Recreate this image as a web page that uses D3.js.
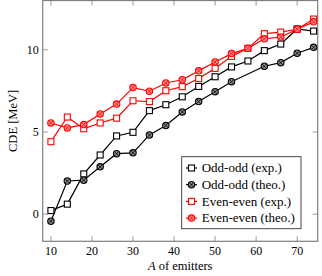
<!DOCTYPE html>
<html>
<head>
<meta charset="utf-8">
<script src="https://cdn.jsdelivr.net/npm/d3@7"></script>
<style>
body { margin: 0; background: #fff; }
</style>
</head>
<body>
<svg width="322" height="276" font-family="'Liberation Serif', 'DejaVu Serif', serif"></svg>
<script>
var massA = [10,14,18,22,26,30,34,38,42,46,50,54,58,62,66,70,74];
var oddExp = [0.22,0.61,2.45,3.6,4.76,4.98,6.3,6.66,7.14,7.77,8.36,8.96,9.32,9.95,10.35,11.27,11.14];
var oddTheo = [-0.43,2.02,2.07,2.88,3.68,3.73,4.82,5.39,6.22,6.85,7.45,8.06,null,9.0,9.22,9.79,10.15];
var evenExp = [4.41,5.91,5.2,5.55,5.84,6.9,6.85,7.51,7.76,8.25,8.87,9.6,10.09,10.98,11.08,11.25,11.87];
var evenTheo = [5.55,5.25,5.45,6.1,6.7,7.7,7.48,7.98,8.18,8.72,9.26,9.77,10.09,10.67,10.78,11.25,11.7];
var xTicks = [10,20,30,40,50,60,70];
var yTicks = [0,5,10];

var series = [
  {name: "Odd-odd (exp.)", vals: oddExp, color: "#000", mark: "square"},
  {name: "Odd-odd (theo.)", vals: oddTheo, color: "#000", mark: "otimes"},
  {name: "Even-even (exp.)", vals: evenExp, color: "#ff0000", mark: "square"},
  {name: "Even-even (theo.)", vals: evenTheo, color: "#ff0000", mark: "otimes"}
];

var pLeft = 42.7, pRight = 317.7, pTop = 0.5, pBottom = 241.3;
var xScale = d3.scaleLinear().domain([8, 75]).range([pLeft, pRight]);
var yScale = d3.scaleLinear().domain([-1.65, 13.0]).range([pBottom, pTop]);

var svg = d3.select("svg");
var axisColor = "#7f7f7f";

// ticks on all four sides, pointing in
var tickG = svg.append("g").attr("stroke", axisColor).attr("stroke-width", 0.8);
xTicks.forEach(function(t){
  tickG.append("line").attr("x1", xScale(t)).attr("x2", xScale(t)).attr("y1", pBottom).attr("y2", pBottom - 5);
  tickG.append("line").attr("x1", xScale(t)).attr("x2", xScale(t)).attr("y1", pTop).attr("y2", pTop + 5);
});
yTicks.forEach(function(t){
  tickG.append("line").attr("x1", pLeft).attr("x2", pLeft + 5).attr("y1", yScale(t)).attr("y2", yScale(t));
  tickG.append("line").attr("x1", pRight).attr("x2", pRight - 5).attr("y1", yScale(t)).attr("y2", yScale(t));
});

svg.append("rect").attr("x", pLeft).attr("y", pTop).attr("width", pRight - pLeft).attr("height", pBottom - pTop)
  .attr("fill", "none").attr("stroke", axisColor).attr("stroke-width", 1.2);

svg.selectAll("text.xt").data(xTicks).enter().append("text").attr("class", "xt")
  .attr("x", function(d){return xScale(d)}).attr("y", pBottom + 14)
  .attr("text-anchor", "middle").attr("font-size", 12).text(function(d){return d});
svg.selectAll("text.yt").data(yTicks).enter().append("text").attr("class", "yt")
  .attr("x", pLeft - 4).attr("y", function(d){return yScale(d) + 4})
  .attr("text-anchor", "end").attr("font-size", 12).text(function(d){return d});

var xl = svg.append("text").attr("x", (pLeft + pRight) / 2).attr("y", 270).attr("text-anchor", "middle").attr("font-size", 12.5);
xl.append("tspan").attr("font-style", "italic").text("A");
xl.append("tspan").text(" of emitters");

svg.append("text").attr("transform", "translate(17," + ((pTop + pBottom) / 2) + ") rotate(-90)")
  .attr("text-anchor", "middle").attr("font-size", 12.5).text("CDE [MeV]");

function drawMark(g, mark, color, x, y){
  if (mark == "square") {
    g.append("rect").attr("x", x - 3).attr("y", y - 3).attr("width", 6).attr("height", 6)
      .attr("fill", "#fff").attr("stroke", color).attr("stroke-width", 1.1);
  } else {
    g.append("circle").attr("cx", x).attr("cy", y).attr("r", 3.2)
      .attr("fill", color == "#000" ? "#888" : "#ff9090").attr("stroke", color).attr("stroke-width", 1.1);
    var r = 2.2;
    g.append("line").attr("x1", x - r).attr("y1", y - r).attr("x2", x + r).attr("y2", y + r).attr("stroke", color).attr("stroke-width", 0.8);
    g.append("line").attr("x1", x - r).attr("y1", y + r).attr("x2", x + r).attr("y2", y - r).attr("stroke", color).attr("stroke-width", 0.8);
  }
}

var line = d3.line()
  .x(function(d){return xScale(d[0])})
  .y(function(d){return yScale(d[1])});

series.forEach(function(s){
  var pts = massA.map(function(a, i){return [a, s.vals[i]]}).filter(function(p){return p[1] != null});
  var g = svg.append("g");
  g.append("path").datum(pts).attr("d", line).attr("fill", "none").attr("stroke", s.color).attr("stroke-width", 1.2);
  pts.forEach(function(p){ drawMark(g, s.mark, s.color, xScale(p[0]), yScale(p[1])); });
});

// legend
var lg = svg.append("g");
lg.append("rect").attr("x", 181.7).attr("y", 156.7).attr("width", 119.3).attr("height", 72)
  .attr("fill", "#fff").attr("stroke", "#333").attr("stroke-width", 0.9);
series.forEach(function(s, i){
  var y = 168 + i * 16.7;
  lg.append("line").attr("x1", 186).attr("x2", 197).attr("y1", y).attr("y2", y).attr("stroke", s.color).attr("stroke-width", 1.2);
  drawMark(lg, s.mark, s.color, 191.5, y);
  lg.append("text").attr("x", 201.7).attr("y", y + 4.3).attr("font-size", 13).text(s.name);
});
</script>
</body>
</html>
